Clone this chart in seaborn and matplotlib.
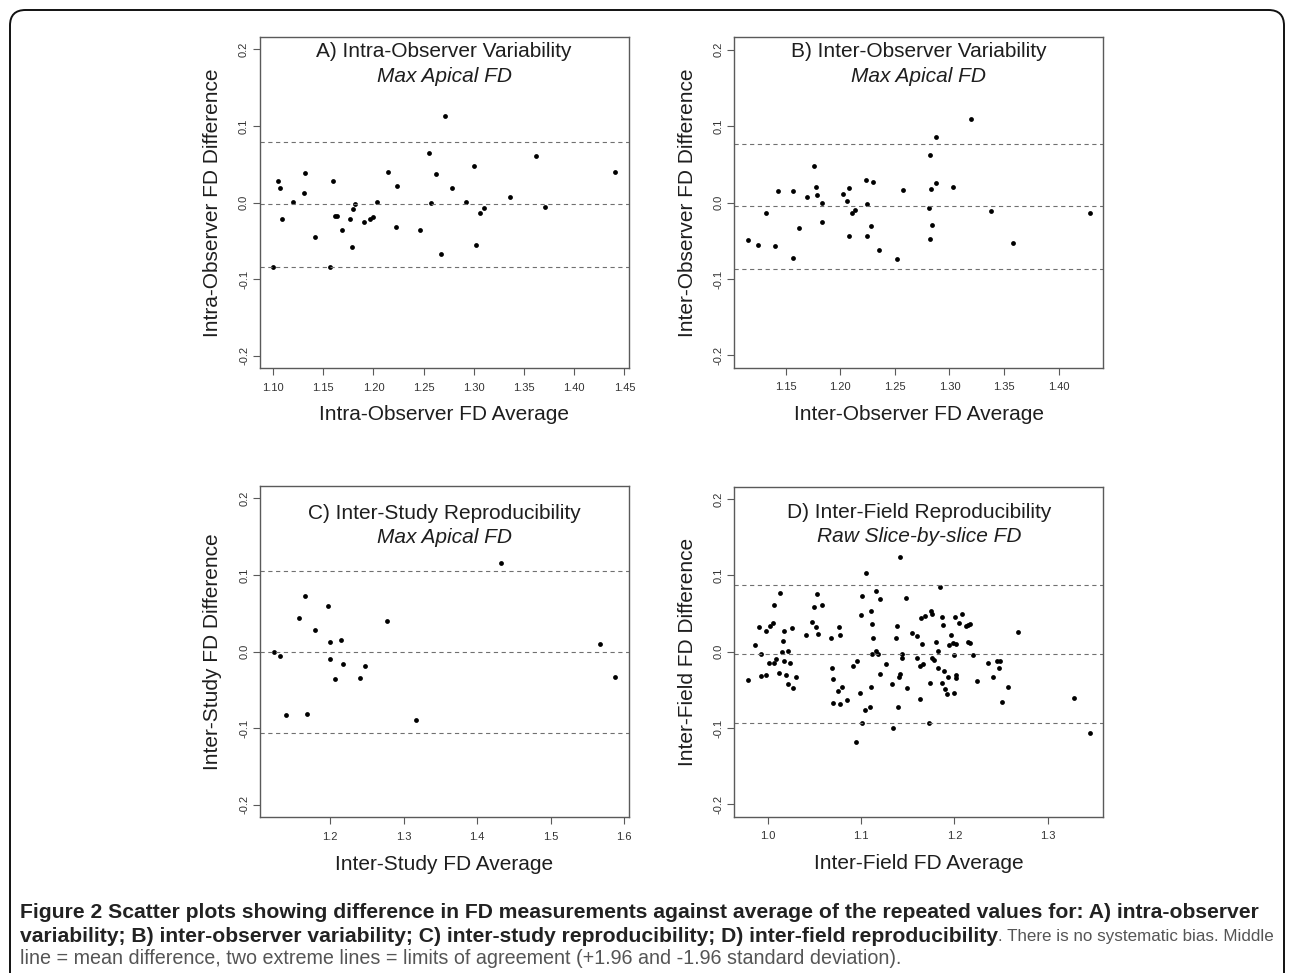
import matplotlib
matplotlib.use("Agg")
import matplotlib.pyplot as plt
import seaborn as sns
import pandas as pd
from matplotlib import font_manager
from matplotlib.patches import FancyBboxPatch

# A) intra-observer, max apical FD
intra_avg = [1.1001, 1.1053, 1.1073, 1.1093, 1.1196, 1.1318, 1.1312, 1.1418, 1.1567, 1.1597,
             1.1617, 1.1640, 1.1683, 1.1769, 1.1789, 1.1799, 1.1812, 1.1902, 1.1962, 1.1995,
             1.2034, 1.2141, 1.2227, 1.2230, 1.2466, 1.2558, 1.2575, 1.2625, 1.2671, 1.2711,
             1.2781, 1.2923, 1.3006, 1.3023, 1.3063, 1.3105, 1.3357, 1.3616, 1.3706, 1.4409]
intra_diff = [-0.0843, 0.0287, 0.0191, -0.0217, 0.0009, 0.0387, 0.0126, -0.0448, -0.0843, 0.0287,
              -0.0174, -0.0170, -0.0361, -0.0217, -0.0583, -0.0083, -0.0022, -0.0257, -0.0213, -0.0187,
              0.0004, 0.0404, -0.0326, 0.0213, -0.0365, 0.0643, -0.0009, 0.0378, -0.0674, 0.1126,
              0.0187, 0.0013, 0.0474, -0.0557, -0.0139, -0.0070, 0.0070, 0.0613, -0.0061, 0.0404]
intra_lines = [0.0796, -0.0017, -0.0848]

# B) inter-observer, max apical FD
inter_obs_avg = [1.1155, 1.1250, 1.1320, 1.1405, 1.1430, 1.1564, 1.1564, 1.1622, 1.1699, 1.1757,
                 1.1775, 1.1790, 1.1830, 1.1836, 1.2025, 1.2062, 1.2083, 1.2080, 1.2104, 1.2132,
                 1.2239, 1.2248, 1.2248, 1.2278, 1.2303, 1.2355, 1.2520, 1.2571, 1.2810, 1.2825,
                 1.2825, 1.2828, 1.2840, 1.2874, 1.2880, 1.3035, 1.3197, 1.3383, 1.3582, 1.4284]
inter_obs_diff = [-0.0496, -0.0552, -0.0139, -0.0565, 0.0148, 0.0148, -0.0726, -0.0339, 0.0074, 0.0474,
                  0.0209, 0.0104, -0.0009, -0.0252, 0.0117, 0.0017, 0.0196, -0.0435, -0.0143, -0.0096,
                  0.0296, -0.0017, -0.0435, -0.0309, 0.0270, -0.0617, -0.0739, 0.0165, -0.0074, 0.0626,
                  -0.0483, 0.0183, -0.0296, 0.0861, 0.0261, 0.0204, 0.1087, -0.0117, -0.0526, -0.0139]
inter_obs_lines = [0.0770, -0.0052, -0.0870]

# C) inter-study, max apical FD
study_avg = [1.1235, 1.1317, 1.1403, 1.1584, 1.1665, 1.1692, 1.1801, 1.1977, 1.2000, 1.2000,
             1.2072, 1.2145, 1.2172, 1.2403, 1.2471, 1.2769, 1.3163, 1.4321, 1.5674, 1.5878]
study_diff = [-0.0013, -0.0061, -0.0826, 0.0443, 0.0722, -0.0813, 0.0278, 0.0600, 0.0130, -0.0100,
              -0.0361, 0.0152, -0.0161, -0.0348, -0.0187, 0.0400, -0.0900, 0.1161, 0.0104, -0.0330]
study_lines = [0.1057, -0.0004, -0.1061]

# D) inter-field, raw slice-by-slice FD
field_avg = [0.9785, 0.9864, 0.9907, 0.9921, 0.9925, 0.9975, 0.9982, 1.0011, 1.0021, 1.0050,
             1.0061, 1.0068, 1.0086, 1.0118, 1.0132, 1.0147, 1.0168, 1.0164, 1.0175, 1.0193,
             1.0211, 1.0215, 1.0232, 1.0261, 1.0268, 1.0297, 1.0404, 1.0472, 1.0494, 1.0515,
             1.0522, 1.0533, 1.0583, 1.0679, 1.0690, 1.0697, 1.0694, 1.0751, 1.0765, 1.0772,
             1.0772, 1.0794, 1.0844, 1.0908, 1.0951, 1.0987, 1.0998, 1.1008, 1.1005, 1.1040,
             1.0940, 1.1047, 1.1098, 1.1101, 1.1108, 1.1119, 1.1126, 1.1115, 1.1158, 1.1158,
             1.1180, 1.1198, 1.1201, 1.1269, 1.1334, 1.1337, 1.1369, 1.1380, 1.1398, 1.1401,
             1.1412, 1.1416, 1.1434, 1.1441, 1.1480, 1.1494, 1.1544, 1.1602, 1.1602, 1.1627,
             1.1634, 1.1652, 1.1659, 1.1637, 1.1684, 1.1741, 1.1727, 1.1749, 1.1756, 1.1763,
             1.1784, 1.1806, 1.1824, 1.1827, 1.1845, 1.1863, 1.1870, 1.1877, 1.1884, 1.1898,
             1.1920, 1.1927, 1.1941, 1.1963, 1.1984, 1.1995, 1.1999, 1.2006, 1.2016, 1.2013,
             1.2020, 1.2045, 1.2084, 1.2127, 1.2149, 1.2163, 1.2149, 1.2170, 1.2202, 1.2238,
             1.2356, 1.2413, 1.2456, 1.2485, 1.2481, 1.2506, 1.2578, 1.2681, 1.3286, 1.3450]
field_diff = [-0.0374, 0.0087, 0.0322, -0.0030, -0.0313, -0.0304, 0.0265, -0.0148, 0.0330, 0.0378,
              -0.0143, 0.0617, -0.0100, -0.0283, 0.0774, -0.0009, 0.0265, 0.0139, -0.0126, -0.0300,
              0.0004, -0.0417, -0.0148, 0.0304, -0.0478, -0.0330, 0.0217, 0.0391, 0.0587, 0.0317,
              0.0752, 0.0235, 0.0609, 0.0174, -0.0217, -0.0352, -0.0670, -0.0517, 0.0322, 0.0222,
              -0.0683, -0.0465, -0.0630, -0.0183, -0.0126, -0.0535, 0.0474, 0.0730, -0.0939, -0.0765,
              -0.1183, 0.1030, -0.0730, -0.0465, 0.0530, 0.0357, 0.0174, -0.0035, 0.0796, 0.0013,
              -0.0026, 0.0696, -0.0296, -0.0157, -0.0417, -0.1004, 0.0174, 0.0330, -0.0722, -0.0330,
              -0.0287, 0.1235, -0.0035, -0.0083, 0.0709, -0.0470, 0.0239, 0.0204, -0.0087, -0.0622,
              -0.0187, 0.0104, -0.0157, 0.0443, 0.0465, -0.0404, -0.0939, 0.0530, 0.0496, -0.0087,
              -0.0109, 0.0130, -0.0217, 0.0009, 0.0843, -0.0413, 0.0457, 0.0343, -0.0252, -0.0491,
              -0.0557, -0.0326, 0.0087, 0.0213, 0.0109, -0.0043, -0.0535, 0.0452, 0.0104, -0.0309,
              -0.0343, 0.0378, 0.0500, 0.0335, 0.0348, 0.0361, 0.0130, 0.0109, -0.0039, -0.0387,
              -0.0148, -0.0335, -0.0126, -0.0126, -0.0217, -0.0665, -0.0457, 0.0257, -0.0600, -0.1070]
field_lines = [0.0874, -0.0026, -0.0935]

y_ticks = [-0.2, -0.1, 0.0, 0.1, 0.2]

sns.set_style("white")
names = {f.name for f in font_manager.fontManager.ttflist}
plt.rcParams['font.family'] = ['Liberation Sans', 'DejaVu Sans']
cap_family = 'Liberation Sans Narrow' if 'Liberation Sans Narrow' in names else 'Liberation Sans'

W, H = 1292, 973
fig = plt.figure(figsize=(W / 100, H / 100), dpi=100)

panels = [
    (intra_avg, intra_diff, intra_lines, "A) Intra-Observer Variability", "Max Apical FD",
     "Intra-Observer FD Average", "Intra-Observer FD Difference",
     [1.10, 1.15, 1.20, 1.25, 1.30, 1.35, 1.40, 1.45], "{:.2f}", (259.5, 37, 629, 368), (14.7, 39.7)),
    (inter_obs_avg, inter_obs_diff, inter_obs_lines, "B) Inter-Observer Variability", "Max Apical FD",
     "Inter-Observer FD Average", "Inter-Observer FD Difference",
     [1.15, 1.20, 1.25, 1.30, 1.35, 1.40], "{:.2f}", (734.3, 37.3, 1103.3, 367.7), (14.4, 39.3)),
    (study_avg, study_diff, study_lines, "C) Inter-Study Reproducibility", "Max Apical FD",
     "Inter-Study FD Average", "Inter-Study FD Difference",
     [1.2, 1.3, 1.4, 1.5, 1.6], "{:.1f}", (260, 486, 629, 817), (27.3, 51.3)),
    (field_avg, field_diff, field_lines, "D) Inter-Field Reproducibility", "Raw Slice-by-slice FD",
     "Inter-Field FD Average", "Inter-Field FD Difference",
     [1.0, 1.1, 1.2, 1.3], "{:.1f}", (734.3, 486.7, 1103.3, 816.7), (25.7, 50.0)),
]

frame_col = '#5a5a5a'
text_col = '#1e1e1e'

for avg, diff, lines, title, sub, xlab, ylab, xt, fmt, (l, t, r, b), (t1, t2) in panels:
    ax = fig.add_axes([l / W, 1 - b / H, (r - l) / W, (b - t) / H])
    df = pd.DataFrame({'avg': avg, 'diff': diff})
    sns.scatterplot(data=df, x='avg', y='diff', ax=ax, color='black', s=12, linewidth=0)
    for v in lines:
        ax.axhline(v, color='#707070', lw=0.8, dashes=(3.8, 3.2))
    # R style 4% padding
    lo, hi = min(avg), max(avg)
    pad = 0.04 * (hi - lo)
    ax.set_xlim(lo - pad, hi + pad)
    ax.set_ylim(-0.216, 0.216)
    ax.set_xticks(xt)
    ax.set_xticklabels([fmt.format(v) for v in xt])
    ax.set_yticks(y_ticks)
    ax.set_yticklabels(["{:.1f}".format(v) for v in y_ticks], rotation=90, va='center')
    ax.tick_params(axis='both', direction='out', length=5, width=0.8, color=frame_col,
                   labelsize=8, labelcolor='#333333', bottom=True, left=True)
    ax.tick_params(axis='x', pad=5.5)
    ax.tick_params(axis='y', pad=2.5)
    for s in ax.spines.values():
        s.set_color(frame_col)
        s.set_linewidth(1.0)
    hpx = b - t
    wpx = r - l
    ax.set_xlabel(xlab, fontsize=15, color=text_col)
    ax.xaxis.set_label_coords(0.5, -47 / hpx)
    ax.xaxis.label.set_va('center')
    ax.set_ylabel(ylab, fontsize=15, color=text_col)
    ax.yaxis.set_label_coords(-47 / wpx, 0.5)
    ax.yaxis.label.set_va('center')
    ax.text(0.5, 1 - t1 / hpx, title, transform=ax.transAxes, ha='center', va='center',
            fontsize=15, color=text_col)
    ax.text(0.5, 1 - t2 / hpx, sub, transform=ax.transAxes, ha='center', va='center',
            fontsize=15, style='italic', color=text_col)

# outer rounded frame, open at the bottom (runs past the picture edge)
box = FancyBboxPatch((10 / W, 1 - 1040 / H), 1274 / W, 1030 / H,
                     boxstyle="round,pad=0,rounding_size=0.012", transform=fig.transFigure,
                     fill=False, edgecolor='#111111', lw=1.4, mutation_aspect=W / H)
fig.add_artist(box)

# caption
cap1 = ("Figure 2 Scatter plots showing difference in FD measurements against average of "
        "the repeated values for: A) intra-observer")
cap2b = ("variability; B) inter-observer variability; C) inter-study reproducibility; "
         "D) inter-field reproducibility")
cap2n = ". There is no systematic bias. Middle"
cap3 = ("line = mean difference, two extreme lines = limits of agreement "
        "(+1.96 and -1.96 standard deviation).")

renderer = fig.canvas.get_renderer()


def fit_size(text, width, **kw):
    probe = fig.text(0, 0, text, fontsize=10, family=cap_family, **kw)
    w10 = probe.get_window_extent(renderer).width
    probe.remove()
    return 10 * width / w10


bold_size = fit_size(cap1, 1245, fontweight='bold')

x0 = 20 / W
fig.text(x0, 1 - 912 / H, cap1, fontsize=bold_size, fontweight='bold', family=cap_family,
         color='#222222', va='center')
t2 = fig.text(x0, 1 - 936 / H, cap2b, fontsize=bold_size, fontweight='bold', family=cap_family,
              color='#222222', va='center')
bold_end = t2.get_window_extent(renderer).x1
line2_size = fit_size(cap2n, 1273 - bold_end)
line3_size = min(fit_size(cap3, 883), bold_size)
fig.text(bold_end / W, 1 - 936 / H, cap2n, fontsize=line2_size, family=cap_family,
         color='#555555', va='center')
fig.text(x0, 1 - 959 / H, cap3, fontsize=line3_size, family=cap_family,
         color='#555555', va='center')

fig.savefig("out.png", dpi=100)
